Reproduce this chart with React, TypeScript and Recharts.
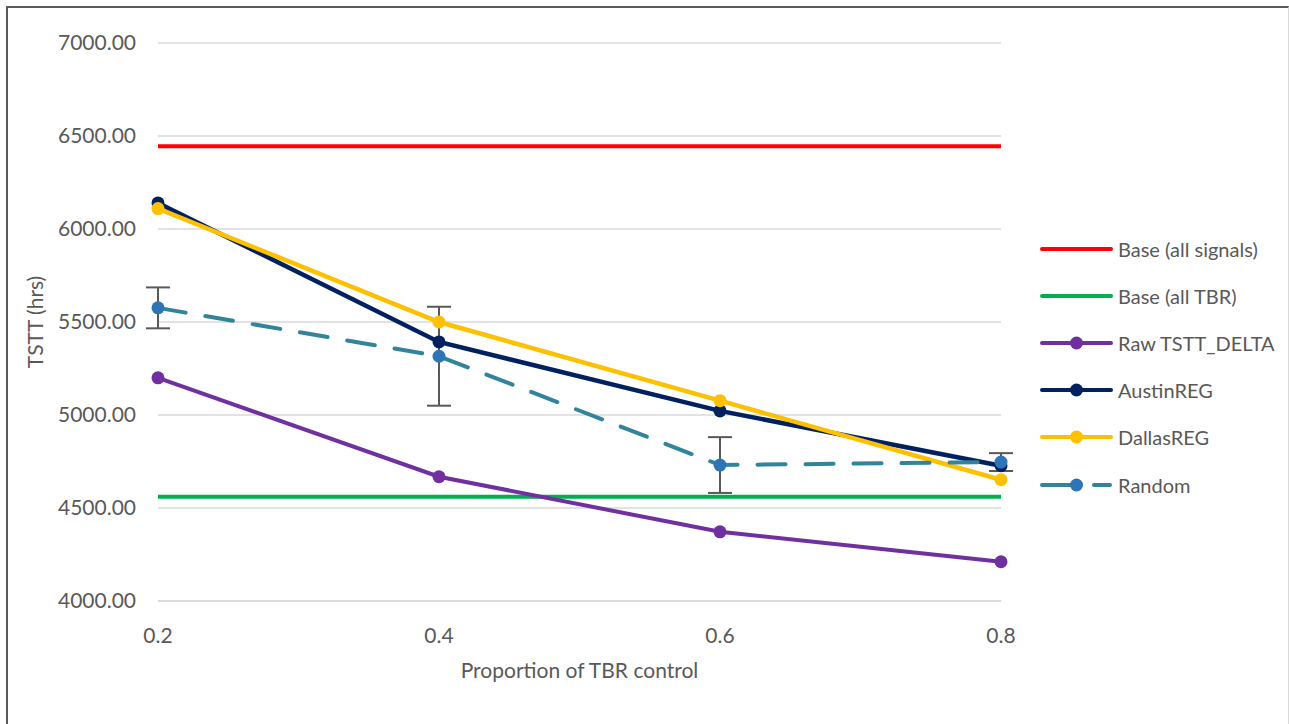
import React from 'react';
import { LineChart, Line, XAxis, YAxis, CartesianGrid, Legend, ErrorBar, Label } from 'recharts';

const categories = ['0.2', '0.4', '0.6', '0.8'];
const baseAllSignals = [6445, 6445, 6445, 6445];
const baseAllTBR = [4560, 4560, 4560, 4560];
const rawTsttDelta = [5200, 4668, 4372, 4211];
const austinReg = [6140, 5393, 5022, 4727];
const dallasReg = [6110, 5500, 5077, 4652];
const randomVals = [5576, 5316, 4731, 4747];
const randomErr = [110, 266, 150, 48];
const yTicks = [4000, 4500, 5000, 5500, 6000, 6500, 7000];

const data = categories.map((c, i) => ({
  cat: c,
  baseAllSignals: baseAllSignals[i],
  baseAllTBR: baseAllTBR[i],
  raw: rawTsttDelta[i],
  austin: austinReg[i],
  dallas: dallasReg[i],
  random: randomVals[i],
  randomErr: randomErr[i],
}));

const FONT = 'Lato, "Open Sans", sans-serif';
const TXT = '#595959';

type LegendItem = { name: string; color: string; dot?: string; dashed?: boolean };
const legendItems: LegendItem[] = [
  { name: 'Base (all signals)', color: '#FF0000' },
  { name: 'Base (all TBR)', color: '#00B050' },
  { name: 'Raw TSTT_DELTA', color: '#7030A0', dot: '#7030A0' },
  { name: 'AustinREG', color: '#002060', dot: '#002060' },
  { name: 'DallasREG', color: '#FFC000', dot: '#FFC000' },
  { name: 'Random', color: '#31849B', dot: '#2E75B6', dashed: true },
];

const CustomLegend = () => (
  <div style={{ fontFamily: FONT, fontSize: 20, color: TXT }}>
    {legendItems.map((it) => (
      <div key={it.name} style={{ height: 47.2, display: 'flex', alignItems: 'center' }}>
        <svg width={76} height={20} style={{ flex: 'none' }}>
          {it.dashed ? (
            <g>
              <line x1={2} y1={10} x2={36} y2={10} stroke={it.color} strokeWidth={4} strokeLinecap="round" />
              <line x1={54} y1={10} x2={70} y2={10} stroke={it.color} strokeWidth={4} strokeLinecap="round" />
            </g>
          ) : (
            <line x1={2} y1={10} x2={71} y2={10} stroke={it.color} strokeWidth={4} strokeLinecap="round" />
          )}
          {it.dot && <circle cx={36.5} cy={10} r={6.5} fill={it.dot} />}
        </svg>
        <span style={{ marginLeft: 2, whiteSpace: 'nowrap' }}>{it.name}</span>
      </div>
    ))}
  </div>
);

export default function App() {
  return (
    <div
      style={{
        position: 'absolute',
        left: 6,
        top: 6,
        width: 1283,
        height: 718,
        boxSizing: 'border-box',
        borderLeft: '2px solid #595959',
        borderTop: '2px solid #595959',
        borderRight: '1px solid #D9D9D9',
        background: '#fff',
      }}
    >
      <LineChart
        width={1280}
        height={716}
        data={data}
        margin={{ top: 35, right: 37, left: 0, bottom: 43 }}
        style={{ fontFamily: FONT }}
      >
        <CartesianGrid vertical={false} stroke="#D9D9D9" strokeWidth={1.5} />
        <XAxis
          dataKey="cat"
          height={80}
          padding={{ left: 0, right: 0 }}
          axisLine={{ stroke: '#D9D9D9', strokeWidth: 1.5 }}
          tickLine={false}
          tickMargin={21}
          tick={{ fill: TXT, fontSize: 21, fontFamily: FONT }}
          interval={0}
        >
          <Label
            value="Proportion of TBR control"
            position="insideBottom"
            offset={3}
            style={{ fill: TXT, fontSize: 21, fontFamily: FONT }}
          />
        </XAxis>
        <YAxis
          width={150}
          domain={[4000, 7000]}
          ticks={yTicks}
          interval={0}
          axisLine={false}
          tickLine={false}
          tickMargin={16}
          tickFormatter={(v: number) => v.toFixed(2)}
          tick={{ fill: TXT, fontSize: 21, fontFamily: FONT }}
        >
          <Label
            value="TSTT (hrs)"
            angle={-90}
            position="insideLeft"
            offset={28}
            style={{ fill: TXT, fontSize: 21, fontFamily: FONT, textAnchor: 'middle' }}
          />
        </YAxis>
        <Legend
          layout="vertical"
          align="right"
          verticalAlign="middle"
          width={250}
          content={<CustomLegend />}
          wrapperStyle={{ left: 1032, top: 217, right: 'auto' }}
        />
        <Line dataKey="baseAllSignals" name="Base (all signals)" stroke="#FF0000" strokeWidth={4} dot={false} isAnimationActive={false} />
        <Line dataKey="baseAllTBR" name="Base (all TBR)" stroke="#00B050" strokeWidth={4} dot={false} isAnimationActive={false} />
        <Line dataKey="raw" name="Raw TSTT_DELTA" stroke="#7030A0" strokeWidth={4} dot={{ r: 6.5, fill: '#7030A0', stroke: '#7030A0', strokeWidth: 0 }} isAnimationActive={false} />
        <Line dataKey="austin" name="AustinREG" stroke="#002060" strokeWidth={4.5} dot={{ r: 6.5, fill: '#002060', stroke: '#002060', strokeWidth: 0 }} isAnimationActive={false} />
        <Line dataKey="dallas" name="DallasREG" stroke="#FFC000" strokeWidth={4.5} dot={{ r: 6.5, fill: '#FFC000', stroke: '#FFC000', strokeWidth: 0 }} isAnimationActive={false} />
        <Line
          dataKey="random"
          name="Random"
          stroke="#31849B"
          strokeWidth={4}
          strokeDasharray="28 20"
          strokeLinecap="round"
          dot={{ r: 6.5, fill: '#2E75B6', stroke: '#2E75B6', strokeWidth: 0 }}
          isAnimationActive={false}
        >
          <ErrorBar dataKey="randomErr" width={12} strokeWidth={2} stroke="#595959" direction="y" />
        </Line>
      </LineChart>
    </div>
  );
}
